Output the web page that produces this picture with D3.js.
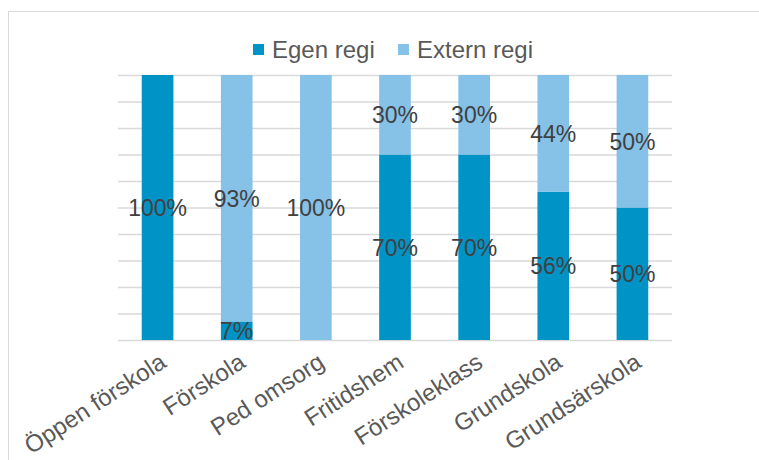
<!DOCTYPE html>
<html>
<head>
<meta charset="utf-8">
<script src="https://cdn.jsdelivr.net/npm/d3@7"></script>
<style>
body{margin:0;background:#fff;}
text{font-family:"Liberation Sans",Arial,sans-serif;fill:#404040;}
</style>
</head>
<body>
<div id="canvas"></div>
<script>
var categories = ["Öppen förskola","Förskola","Ped omsorg","Fritidshem","Förskoleklass","Grundskola","Grundsärskola"];
var egenRegi = [100,7,0,70,70,56,50];
var externRegi = [0,93,100,30,30,44,50];
var seriesNames = ["Egen regi","Extern regi"];
var yTicks = [0,10,20,30,40,50,60,70,80,90,100];

var W = 759, H = 460;
var m = {t:75,r:87,b:120,l:118};
var w = W - m.l - m.r, h = H - m.t - m.b;
var colors = ["#0093c6","#86c1e8"];

var svg = d3.select('#canvas').append('svg')
    .attr('width',W).attr('height',H);

// chart frame
svg.append('rect')
    .attr('x',8.5).attr('y',11.5)
    .attr('width',W+10).attr('height',H)
    .attr('fill','none').attr('stroke','#d9d9d9');

var plot = svg.append('g').attr('transform','translate('+m.l+','+m.t+')');

var x = d3.scaleBand().domain(categories).range([0,w]).paddingInner(0.6).paddingOuter(0.3);
var y = d3.scaleLinear().domain([0,100]).range([h,0]);

plot.selectAll('.grid').data(yTicks).enter().append('line')
    .attr('x1',0).attr('x2',w)
    .attr('y1',function(d){return y(d)+0.5}).attr('y2',function(d){return y(d)+0.5})
    .attr('stroke','#d9d9d9').attr('stroke-width',1.5);

var rows = categories.map(function(c,i){return {cat:c, egen:egenRegi[i], extern:externRegi[i]}});
var stack = d3.stack().keys(['egen','extern'])(rows);

var layers = plot.selectAll('.layer').data(stack).enter().append('g')
    .attr('fill',function(d,i){return colors[i]});

layers.selectAll('rect').data(function(d){return d}).enter().append('rect')
    .attr('x',function(d){return x(d.data.cat)})
    .attr('width',x.bandwidth())
    .attr('y',function(d){return y(d[1])})
    .attr('height',function(d){return y(d[0])-y(d[1])});

layers.selectAll('text').data(function(d){return d.filter(function(p){return p[1]-p[0]>0})}).enter().append('text')
    .attr('x',function(d){return x(d.data.cat)+x.bandwidth()/2})
    .attr('y',function(d){return (y(d[0])+y(d[1]))/2})
    .attr('dy','0.36em')
    .attr('text-anchor','middle')
    .style('font-size','23px')
    .text(function(d){return (d[1]-d[0])+'%'});

// x axis labels
plot.selectAll('.xl').data(categories).enter().append('text')
    .attr('transform',function(d){return 'translate('+(x(d)+x.bandwidth()/2+1)+','+(h+12)+') rotate(-33)'})
    .attr('text-anchor','end')
    .attr('dy','0.7em')
    .style('font-size','24px')
    .style('fill','#595959')
    .text(function(d){return d});

// legend
var legend = svg.append('g').attr('transform','translate(253,49)');
var lx = [0,145];
seriesNames.forEach(function(s,i){
    var g = legend.append('g').attr('transform','translate('+lx[i]+',0)');
    g.append('rect').attr('x',0).attr('y',-5).attr('width',11).attr('height',11).attr('fill',colors[i]);
    g.append('text').attr('x',19).attr('y',0).attr('dy','0.36em')
        .style('font-size','24px').style('fill','#595959').text(s);
});
</script>
</body>
</html>
